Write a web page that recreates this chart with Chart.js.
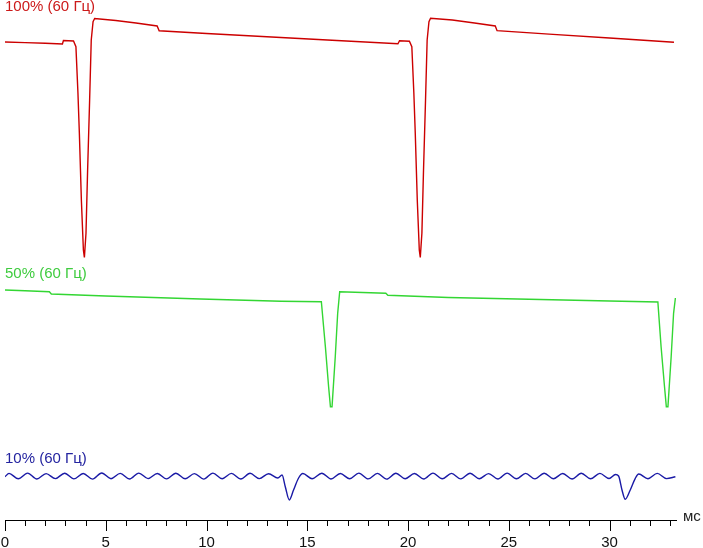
<!DOCTYPE html>
<html>
<head>
<meta charset="utf-8">
<script src="https://cdn.jsdelivr.net/npm/chart.js@4.4.0/dist/chart.umd.min.js"></script>
<style>
  body { margin: 0; background: #fff; }
  canvas { display: block; }
</style>
</head>
<body>
<canvas id="chart" width="703" height="548"></canvas>
<script>
// Осциллограммы яркости: время в мс, уровень в условных единицах
const traceNames = ['100% (60 Гц)', '50% (60 Гц)', '10% (60 Гц)'];
const traceColors = ['#cc0000', '#33d633', '#1a1aa6'];
const labelColors = ['#cc1a1a', '#3fcc3f', '#2424a0'];

// [время, уровень]
const red100 = [
  [0, 478], [1.0, 477.4], [2.0, 476.7], [2.85, 476], [2.9, 479.5], [3.4, 479],
  [3.52, 473.3], [3.62, 427], [3.69, 387], [3.79, 320], [3.89, 270], [3.94, 262.5],
  [4.02, 287], [4.10, 350], [4.20, 420], [4.28, 480], [4.37, 498.3], [4.45, 501.5],
  [5.5, 499.5], [6.5, 497], [7.55, 494], [7.65, 489.2], [10, 486.5], [13, 483.2],
  [16, 480], [19.5, 476.2], [19.58, 479.3], [20.07, 478.8],
  [20.19, 473.3], [20.29, 427], [20.36, 387], [20.46, 320], [20.56, 270], [20.61, 262.5],
  [20.69, 287], [20.77, 350], [20.87, 420], [20.95, 480], [21.04, 498.3], [21.12, 501.7],
  [22.2, 500], [23.3, 497], [24.33, 494], [24.42, 489.3], [27, 485.9], [30, 482], [33.2, 477.7]
];

const green50 = [
  [0, 230], [1.0, 229.2], [2.2, 228.3], [2.3, 226], [5, 224], [9.7, 221], [13.7, 218.7],
  [15.7, 218.3], [15.9, 173.3], [16.06, 133.3], [16.15, 113.3], [16.23, 113.3],
  [16.39, 163.3], [16.51, 206.7], [16.61, 228.3], [18.9, 226.7], [19.0, 224.7],
  [22, 222.5], [26, 220.7], [30, 219], [32.4, 218], [32.56, 173.3], [32.73, 133.3],
  [32.82, 113.3], [32.9, 113.3], [33.06, 163.3], [33.18, 206.7], [33.27, 222]
];

const blue10 = [
  [0, 43.3], [0.2, 46.6], [0.66, 41.2], [1.12, 46.9], [1.58, 41], [2.04, 46.4], [2.5, 41.4],
  [2.96, 46.8], [3.42, 41.1], [3.88, 46.5], [4.34, 40.9], [4.8, 47], [5.26, 41.3],
  [5.72, 46.6], [6.18, 41], [6.64, 46.9], [7.1, 41.4], [7.56, 46.5], [8.02, 41.1],
  [8.48, 46.8], [8.94, 41.2], [9.4, 46.4], [9.86, 40.9], [10.32, 46.9], [10.78, 41.3],
  [11.24, 46.6], [11.7, 41], [12.16, 46.7], [12.62, 41.4], [13.08, 46.3], [13.54, 42],
  [13.75, 45], [13.91, 33.3], [14.11, 20], [14.32, 30], [14.57, 42], [14.78, 46.5],
  [15.24, 41.2], [15.72, 46.8], [16.18, 41], [16.64, 46.5], [17.1, 41.3], [17.56, 46.9],
  [18.02, 41.1], [18.48, 46.6], [18.94, 40.9], [19.4, 46.8], [19.86, 41.3], [20.32, 46.5],
  [20.78, 41], [21.24, 46.9], [21.7, 41.2], [22.16, 46.6], [22.62, 41.1], [23.08, 46.8],
  [23.54, 41.3], [24.0, 46.4], [24.46, 41], [24.92, 46.9], [25.38, 41.2], [25.84, 46.6],
  [26.3, 41.1], [26.76, 46.8], [27.22, 41.3], [27.68, 46.5], [28.14, 41], [28.6, 46.7],
  [29.06, 41.2], [29.52, 46.6], [29.98, 41.5], [30.3, 45.5],
  [30.45, 44], [30.62, 30], [30.78, 20.7], [31.03, 30], [31.28, 41.7], [31.45, 46],
  [31.91, 41.3], [32.37, 46.6], [32.83, 41.4], [33.27, 43.3]
];

const traces = [red100, green50, blue10];
const xTickStep = 5;
const xMinorStep = 1;
const xMax = 33.3;

const axisFont = '15px "Liberation Sans", Arial, sans-serif';

// засечки оси, подпись «мс» и названия кривых
const decor = {
  id: 'decor',
  afterDraw(chart) {
    const { ctx, chartArea, scales: { x, y } } = chart;
    const labelLevel = [509, 242, 57];
    ctx.save();
    ctx.strokeStyle = '#000';
    ctx.lineWidth = 1;
    ctx.beginPath();
    for (let t = 0; t <= xMax; t += xMinorStep) {
      const px = Math.round(x.getPixelForValue(t)) + 0.5;
      const len = t % xTickStep === 0 ? 11 : 6;
      ctx.moveTo(px, chartArea.bottom);
      ctx.lineTo(px, chartArea.bottom + len);
    }
    ctx.stroke();

    ctx.font = axisFont;
    ctx.fillStyle = '#222';
    ctx.textBaseline = 'alphabetic';
    ctx.fillText('мс', chartArea.right + 7, chartArea.bottom + 1);

    traceNames.forEach((name, i) => {
      ctx.fillStyle = labelColors[i];
      ctx.fillText(name, x.getPixelForValue(0), y.getPixelForValue(labelLevel[i]));
    });
    ctx.restore();
  }
};

new Chart(document.getElementById('chart'), {
  type: 'line',
  data: {
    datasets: traces.map((points, i) => ({
      label: traceNames[i],
      data: points.map(p => ({ x: p[0], y: p[1] })),
      borderColor: traceColors[i],
      borderWidth: 1.4,
      pointRadius: 0,
      tension: i === 2 ? 0.4 : 0,
      cubicInterpolationMode: i === 2 ? 'monotone' : 'default',
      fill: false
    }))
  },
  options: {
    responsive: false,
    animation: false,
    layout: { padding: { left: 5, right: 27, top: 0, bottom: 0 } },
    plugins: {
      legend: { display: false },
      tooltip: { enabled: false }
    },
    scales: {
      x: {
        type: 'linear',
        min: 0,
        max: xMax,
        grid: { display: false, drawTicks: false },
        border: { display: true, color: '#000', width: 1 },
        ticks: {
          stepSize: xTickStep,
          includeBounds: false,
          autoSkip: false,
          maxRotation: 0,
          padding: 14,
          color: '#111',
          font: { family: '"Liberation Sans", Arial, sans-serif', size: 15 }
        },
        afterFit(scale) {
          scale.height = 28;
          scale.paddingLeft = 0;
          scale.paddingRight = 0;
        }
      },
      y: {
        display: false,
        min: 0,
        max: 520
      }
    }
  },
  plugins: [decor]
});
</script>
</body>
</html>
